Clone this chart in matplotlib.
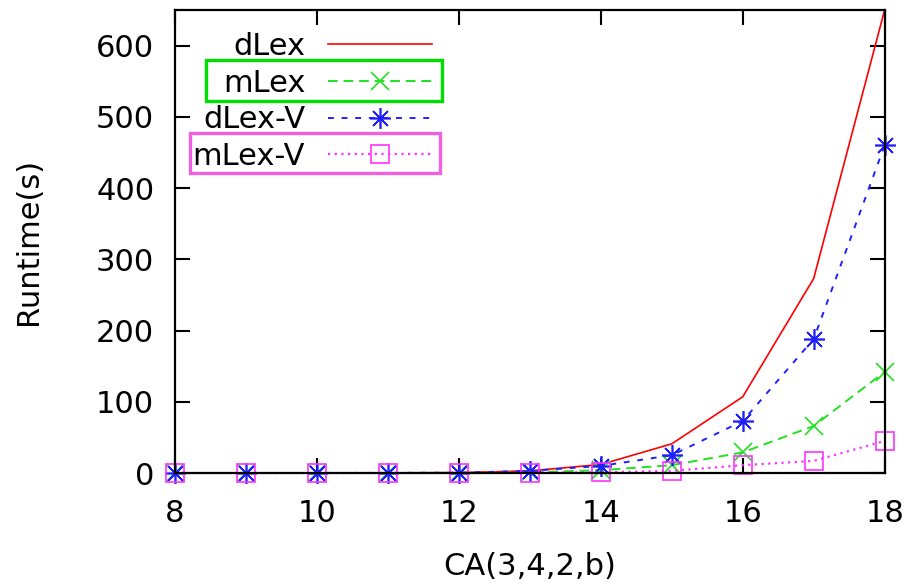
import matplotlib
matplotlib.use("Agg")
import matplotlib.pyplot as plt
from matplotlib.patches import Rectangle

plt.rcParams['font.family'] = ['DejaVu Sans']

# data
b = [8, 9, 10, 11, 12, 13, 14, 15, 16, 17, 18]
dlex = [0.0, 0.0, 0.1, 0.2, 0.6, 3, 12, 41, 107, 273, 650]
mlex = [0.0, 0.0, 0.0, 0.1, 0.2, 1, 4, 11, 29, 66, 142]
dlexv = [0.0, 0.0, 0.1, 0.2, 0.5, 3, 10, 25, 73, 188, 460]
mlexv = [0.0, 0.0, 0.0, 0.0, 0.1, 0.5, 1, 3, 11, 17, 45]
xticks = [8, 10, 12, 14, 16, 18]
yticks = [0, 100, 200, 300, 400, 500, 600]

fig = plt.figure(figsize=(9.12, 5.84), dpi=100)
ax = fig.add_axes([0.192, 0.190, 0.778, 0.793])

ax.plot(b, dlex, color='#ff0000', lw=1.2, label='dLex')
ax.plot(b, mlex, color='#22e022', lw=1.4, ls=(0, (5, 3)), marker='x',
        ms=13, mew=1.2, label='mLex', clip_on=False)
ax.plot(b, dlexv, color='#2020ff', lw=1.4, ls=(0, (3, 4)), marker=(8, 2, 0),
        ms=15, mew=1.2, label='dLex-V', clip_on=False)
ax.plot(b, mlexv, color='#ff33ff', lw=1.6, ls=(0, (1, 2)), marker='s',
        ms=13, mew=1.2, mfc='none', label='mLex-V', clip_on=False)

ax.set_xlim(8, 18)
ax.set_ylim(0, 650)
ax.set_xticks(xticks)
ax.set_yticks(yticks)
ax.tick_params(direction='in', length=10.5, width=1.5, labelsize=22,
               top=True, right=True, pad=15)
ax.tick_params(axis='x', pad=19)
for s in ax.spines.values():
    s.set_linewidth(1.6)

ax.set_xlabel('CA(3,4,2,b)', fontsize=22, labelpad=17)
ax.set_ylabel('Runtime(s)', fontsize=22, labelpad=38)

leg = ax.legend(loc='upper right', bbox_to_anchor=(0.362, 0.952), frameon=False,
                markerfirst=False, fontsize=22, handlelength=3.4,
                labelspacing=0.25, handletextpad=0.75, borderaxespad=0,
                borderpad=0)

# highlight boxes around two legend entries
ax.add_patch(Rectangle((0.044, 0.803), 0.332, 0.089, transform=ax.transAxes,
                       fill=False, ec='#00e000', lw=2.4, clip_on=False))
ax.add_patch(Rectangle((0.021, 0.648), 0.352, 0.086, transform=ax.transAxes,
                       fill=False, ec='#f060e0', lw=2.4, clip_on=False))

fig.savefig('out.png', dpi=100)
